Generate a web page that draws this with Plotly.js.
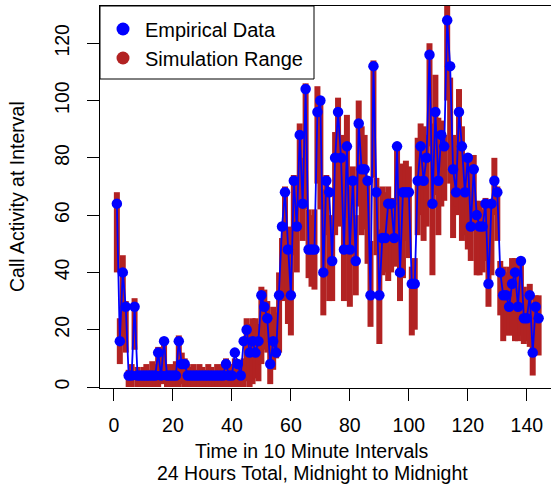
<!DOCTYPE html>
<html>
<head>
<meta charset="utf-8">
<script src="https://cdn.plot.ly/plotly-3.0.1.min.js"></script>
<style>html,body{margin:0;padding:0;background:#fff;}</style>
</head>
<body>
<div id="chart" style="width:551px;height:485px"></div>
<script>
const intervals = [
  1,2,3,4,5,6,7,8,9,10,11,12,13,14,15,16,17,18,19,20,
  21,22,23,24,25,26,27,28,29,30,31,32,33,34,35,36,37,38,39,40,
  41,42,43,44,45,46,47,48,49,50,51,52,53,54,55,56,57,58,59,60,
  61,62,63,64,65,66,67,68,69,70,71,72,73,74,75,76,77,78,79,80,
  81,82,83,84,85,86,87,88,89,90,91,92,93,94,95,96,97,98,99,100,
  101,102,103,104,105,106,107,108,109,110,111,112,113,114,115,116,117,118,119,120,
  121,122,123,124,125,126,127,128,129,130,131,132,133,134,135,136,137,138,139,140,
  141,142,143,144
];
const empirical = [
  64,16,40,28,4,4,28,4,4,4,
  4,4,4,4,12,4,16,4,4,4,
  4,16,8,8,4,4,4,4,4,4,
  4,4,4,4,4,4,4,8,4,4,
  12,8,4,16,20,12,16,12,16,32,
  28,24,8,16,12,32,56,68,48,32,
  72,56,88,64,104,48,48,48,96,100,
  40,72,68,44,80,96,80,48,84,48,
  72,44,92,76,76,72,32,112,68,32,
  52,52,64,64,52,84,40,68,68,68,
  36,36,72,84,72,80,116,64,96,72,
  88,84,128,112,76,68,96,84,68,80,
  56,76,60,56,56,64,36,64,72,68,
  40,32,32,28,36,40,28,44,24,24,
  32,12,28,24
];
const simMin = [
  40,8,15,12,0,0,13,0,0,0,
  0,0,0,0,0,1,2,0,0,0,
  0,0,1,0,0,0,0,0,0,0,
  0,0,0,0,0,0,0,0,0,0,
  0,0,0,0,2,0,1,3,2,8,
  13,12,1,6,10,12,30,40,22,18,
  46,40,65,51,62,38,35,34,71,62,
  25,53,30,30,53,59,56,30,59,28,
  46,32,63,53,55,43,21,73,46,15,
  39,40,37,40,42,51,30,38,51,45,
  18,20,53,60,51,56,84,39,67,53,
  63,65,100,71,52,63,60,51,53,48,
  44,56,39,39,40,44,28,39,60,51,
  25,16,18,18,18,16,16,18,15,16,
  14,4,13,11
];
const simMax = [
  68,24,46,30,6,8,31,7,5,7,
  8,6,9,8,14,12,17,8,7,8,
  9,18,12,10,8,7,8,6,8,7,
  6,8,7,5,8,7,8,10,7,8,
  10,9,7,10,24,22,24,24,22,35,
  34,30,25,28,26,40,52,70,55,56,
  74,72,92,80,106,62,60,62,105,100,
  69,74,60,55,89,101,88,70,95,70,
  77,60,100,91,88,73,51,114,73,55,
  70,68,70,66,65,84,60,78,79,77,
  42,45,87,92,91,88,120,92,109,94,
  93,88,133,108,88,82,104,91,80,81,
  80,81,65,65,62,66,65,65,80,70,
  44,42,40,42,45,45,39,45,35,33,
  36,28,32,32
];
const xTicks = [0,20,40,60,80,100,120,140];
const yTicks = [0,20,40,60,80,100,120];
const legendNames = ['Empirical Data','Simulation Range'];
const xTitle = 'Time in 10 Minute Intervals';
const xSubtitle = '24 Hours Total, Midnight to Midnight';
const yTitle = 'Call Activity at Interval';

const red = '#B22222';
const blue = '#0000FF';

// vertical range segments built from simMin/simMax
const segX = [], segY = [];
intervals.forEach((t, k) => {
  segX.push(t, t, null);
  segY.push(simMin[k], simMax[k], null);
});

const traces = [
  {x: segX, y: segY, mode: 'lines', line: {color: red, width: 6}, showlegend: false, hoverinfo: 'skip'},
  {x: intervals, y: empirical, mode: 'lines+markers', line: {color: blue, width: 1.8},
   marker: {color: blue, size: 10.5}, showlegend: false},
  {x: [null], y: [null], mode: 'markers', marker: {color: blue, size: 13}, name: legendNames[0]},
  {x: [null], y: [null], mode: 'markers', marker: {color: red, size: 13}, name: legendNames[1]}
];

const plotL = 100, plotT = 6, plotR = 551, plotB = 388;
const pw = plotR - plotL, ph = plotB - plotT;
const px2x = p => (p - plotL) / pw;
const px2y = p => (plotB - p) / ph;

const layout = {
  width: 551, height: 485,
  margin: {l: plotL, r: 551 - plotR, t: plotT, b: 485 - plotB, pad: 0},
  paper_bgcolor: 'white', plot_bgcolor: 'white',
  font: {family: 'Liberation Sans, Arial, sans-serif', size: 19.5, color: 'black'},
  showlegend: true,
  legend: {x: px2x(101), y: px2y(9.5), xanchor: 'left', yanchor: 'top', bgcolor: 'rgba(0,0,0,0)',
           borderwidth: 0, font: {size: 20}, traceorder: 'normal', itemwidth: 34},
  xaxis: {range: [-4.72, 148.2], tickvals: xTicks, ticktext: xTicks.map(String),
          ticks: 'outside', ticklen: 12, tickwidth: 1, tickcolor: 'black',
          showline: true, mirror: true, linecolor: 'black', linewidth: 1,
          showgrid: false, zeroline: false, ticklabelstandoff: 8, fixedrange: true},
  yaxis: {range: [-0.35, 133], tickvals: yTicks, ticktext: yTicks.map(String),
          ticks: 'outside', ticklen: 12, tickwidth: 1, tickcolor: 'black', tickangle: -90,
          showline: true, mirror: false, linecolor: 'black', linewidth: 1,
          showgrid: false, zeroline: false, ticklabelstandoff: 10, fixedrange: true},
  shapes: [{type: 'rect', xref: 'paper', yref: 'paper',
            x0: 0, x1: px2x(314), y0: px2y(79), y1: 1,
            line: {color: 'black', width: 1}, fillcolor: 'white', layer: 'above'}],
  annotations: [
    {text: xTitle, xref: 'paper', yref: 'paper', x: px2x(312), y: px2y(451),
     xanchor: 'center', yanchor: 'middle', showarrow: false},
    {text: xSubtitle, xref: 'paper', yref: 'paper', x: px2x(312), y: px2y(473),
     xanchor: 'center', yanchor: 'middle', showarrow: false},
    {text: yTitle, xref: 'paper', yref: 'paper', x: px2x(17), y: px2y(197),
     xanchor: 'center', yanchor: 'middle', textangle: -90, showarrow: false}
  ]
};

Plotly.newPlot('chart', traces, layout, {displayModeBar: false, staticPlot: true});
</script>
</body>
</html>
